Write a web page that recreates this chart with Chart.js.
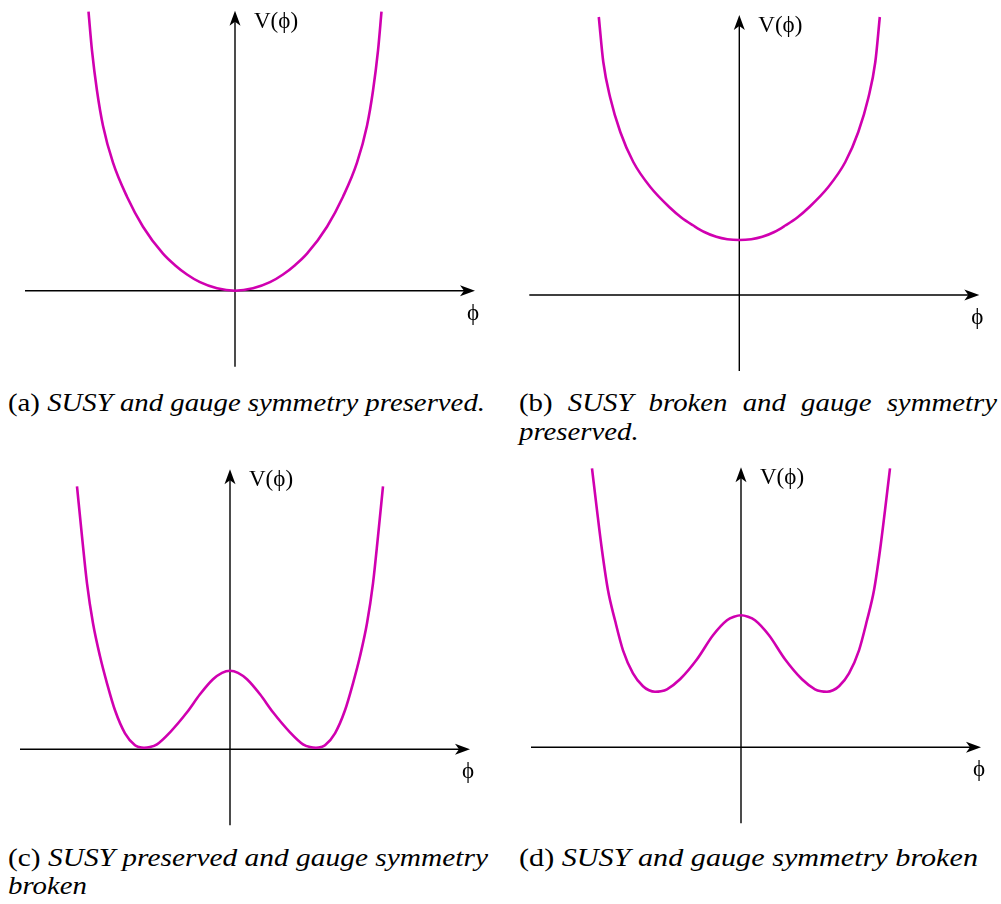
<!DOCTYPE html>
<html>
<head>
<meta charset="utf-8">
<script src="https://cdn.jsdelivr.net/npm/chart.js@4.4.1/dist/chart.umd.min.js"></script>
<style>
  body { margin: 0; background: #fff; }
  #page { position: relative; width: 1001px; height: 904px; overflow: hidden; }
  .panel { position: absolute; width: 500px; height: 380px; }
  .cap {
    position: absolute;
    font-family: "Liberation Serif", "Times New Roman", serif;
    font-size: 26px;
    line-height: 26px;
    white-space: nowrap;
    color: #000;
    transform-origin: 0 0;
  }
  .cap i { font-style: italic; }
  .just { white-space: normal; text-align: justify; text-align-last: justify; }
</style>
</head>
<body>
<div id="page">
  <div class="panel" style="left:0;top:0"><canvas id="chartA"></canvas></div>
  <div class="panel" style="left:500px;top:0"><canvas id="chartB"></canvas></div>
  <div class="panel" style="left:0;top:460px"><canvas id="chartC"></canvas></div>
  <div class="panel" style="left:500px;top:460px"><canvas id="chartD"></canvas></div>

  <div class="cap" id="capA" style="left:8px;top:390px">(a) <i>SUSY and gauge symmetry preserved.</i></div>
  <div class="cap just" id="capB1" style="left:519px;top:390px">(b) <i>SUSY broken and gauge symmetry</i></div>
  <div class="cap" id="capB2" style="left:519px;top:419px"><i>preserved.</i></div>
  <div class="cap" id="capC1" style="left:8px;top:845px">(c) <i>SUSY preserved and gauge symmetry</i></div>
  <div class="cap" id="capC2" style="left:8px;top:873px"><i>broken</i></div>
  <div class="cap" id="capD" style="left:519px;top:845px">(d) <i>SUSY and gauge symmetry broken</i></div>
</div>

<script>
// curves (arbitrary units, field on x, potential on y)
const phiA = [-1.465, -1.43, -1.38, -1.32, -1.22, -1.08, -0.92, -0.72, -0.60, -0.48, -0.35, -0.18, 0,
              0.18, 0.35, 0.48, 0.60, 0.72, 0.92, 1.08, 1.22, 1.32, 1.38, 1.43, 1.465];
const vA   = [2.79, 2.40, 2.00, 1.65, 1.28, 0.94, 0.64, 0.37, 0.255, 0.162, 0.085, 0.024, 0,
              0.024, 0.085, 0.162, 0.255, 0.37, 0.64, 0.94, 1.28, 1.65, 2.00, 2.40, 2.79];

const phiB = [-1.405, -1.36, -1.29, -1.19, -1.06, -0.89, -0.69, -0.58, -0.46, -0.35, -0.23, -0.12, 0,
              0.12, 0.23, 0.35, 0.46, 0.58, 0.69, 0.89, 1.06, 1.19, 1.29, 1.36, 1.405];
const vB   = [2.78, 2.33, 1.97, 1.63, 1.33, 1.08, 0.87, 0.775, 0.695, 0.63, 0.582, 0.558, 0.55,
              0.558, 0.582, 0.63, 0.695, 0.775, 0.87, 1.08, 1.33, 1.63, 1.97, 2.33, 2.78];

const phiC = [-1.53, -1.48, -1.43, -1.37, -1.30, -1.23, -1.15, -1.05, -0.95, -0.91, -0.86, -0.80, -0.73, -0.60, -0.43, -0.30, -0.17, -0.08, 0,
              0.08, 0.17, 0.30, 0.43, 0.60, 0.73, 0.80, 0.86, 0.91, 0.95, 1.05, 1.15, 1.23, 1.30, 1.37, 1.43, 1.48, 1.53];
const vC   = [2.63, 2.13, 1.66, 1.26, 0.93, 0.66, 0.39, 0.16, 0.04, 0.022, 0.015, 0.022, 0.05, 0.17, 0.37, 0.55, 0.70, 0.765, 0.785,
              0.765, 0.70, 0.55, 0.37, 0.17, 0.05, 0.022, 0.015, 0.022, 0.04, 0.16, 0.39, 0.66, 0.93, 1.26, 1.66, 2.13, 2.63];

const phiD = [-1.49, -1.44, -1.39, -1.33, -1.26, -1.18, -1.08, -0.98, -0.92, -0.86, -0.80, -0.74, -0.61, -0.44, -0.28, -0.14, -0.07, 0,
              0.07, 0.14, 0.28, 0.44, 0.61, 0.74, 0.80, 0.86, 0.92, 0.98, 1.08, 1.18, 1.26, 1.33, 1.39, 1.44, 1.49];
const vD   = [2.79, 2.37, 1.97, 1.57, 1.27, 0.97, 0.74, 0.61, 0.57, 0.555, 0.56, 0.58, 0.68, 0.88, 1.12, 1.27, 1.305, 1.32,
              1.305, 1.27, 1.12, 0.88, 0.68, 0.58, 0.56, 0.555, 0.57, 0.61, 0.74, 0.97, 1.27, 1.57, 1.97, 2.37, 2.79];

// axis labels
const yLabel = "V(\u03D5)";
const xLabel = "\u03D5";

const curveColor = "#d000b0";

function arrowHead(ctx, x, y, dir) {
  // filled arrow, slightly notched at the back
  const len = 15, half = 5.5, notch = 11;
  ctx.save();
  ctx.translate(x, y);
  if (dir === "up") ctx.rotate(-Math.PI / 2);
  ctx.beginPath();
  ctx.moveTo(0, 0);
  ctx.lineTo(-len, -half);
  ctx.lineTo(-notch, 0);
  ctx.lineTo(-len, half);
  ctx.closePath();
  ctx.fillStyle = "#000";
  ctx.fill();
  ctx.restore();
}

const arrowAxes = {
  id: "arrowAxes",
  beforeDatasetsDraw(chart, args, opts) {
    const ctx = chart.ctx;
    const xs = chart.scales.x, ys = chart.scales.y;
    const x0 = xs.getPixelForValue(0);
    const y0 = ys.getPixelForValue(0);
    const left = xs.getPixelForValue(opts.phiRange[0]);
    const right = xs.getPixelForValue(opts.phiRange[1]);
    const bottom = ys.getPixelForValue(opts.vRange[0]);
    const top = ys.getPixelForValue(opts.vRange[1]);

    ctx.save();
    ctx.strokeStyle = "#000";
    ctx.lineWidth = 1.4;
    ctx.beginPath();
    ctx.moveTo(left, y0);
    ctx.lineTo(right - 10, y0);
    ctx.moveTo(x0, bottom);
    ctx.lineTo(x0, top + 10);
    ctx.stroke();
    arrowHead(ctx, right, y0, "right");
    arrowHead(ctx, x0, top, "up");

    ctx.fillStyle = "#000";
    ctx.font = '23px "Liberation Serif", "Times New Roman", serif';
    ctx.textAlign = "left";
    ctx.textBaseline = "alphabetic";
    ctx.fillText(yLabel, x0 + 19, top + 17);
    ctx.textAlign = "center";
    ctx.fillText(xLabel, right - 2, y0 + 29);
    ctx.restore();
  }
};

function makePanel(id, phi, v, xMin, xMax, yMin, yMax) {
  new Chart(document.getElementById(id), {
    type: "line",
    data: {
      datasets: [{
        data: phi.map((p, i) => ({ x: p, y: v[i] })),
        borderColor: curveColor,
        borderWidth: 2.6,
        pointRadius: 0,
        fill: false,
        cubicInterpolationMode: "monotone",
        clip: false
      }]
    },
    options: {
      responsive: true,
      maintainAspectRatio: false,
      animation: false,
      layout: { padding: 0 },
      events: [],
      scales: {
        x: { type: "linear", min: xMin, max: xMax, display: false },
        y: { type: "linear", min: yMin, max: yMax, display: false }
      },
      plugins: {
        legend: { display: false },
        tooltip: { enabled: false },
        arrowAxes: { phiRange: [-2.10, 2.40], vRange: [-0.76, 2.80] }
      }
    },
    plugins: [arrowAxes]
  });
}

makePanel("chartA", phiA, vA, -2.35, 2.65, -0.893, 2.907);
makePanel("chartB", phiB, vB, -2.393, 2.607, -0.85, 2.95);
makePanel("chartC", phiC, vC, -2.30, 2.70, -0.907, 2.893);
makePanel("chartD", phiD, vD, -2.41, 2.59, -0.927, 2.873);

// stretch caption lines to the widths they have in the figure
function naturalWidth(el) {
  const r = document.createRange();
  r.selectNodeContents(el);
  return r.getBoundingClientRect().width;
}
const capA = document.getElementById("capA");
const s = 477 / naturalWidth(capA);
capA.style.transform = "scaleX(" + s + ")";

const capD = document.getElementById("capD");
capD.style.transform = "scaleX(" + (459 / naturalWidth(capD)) + ")";

const capC1 = document.getElementById("capC1");
capC1.style.transform = "scaleX(" + (480 / naturalWidth(capC1)) + ")";

const capB1 = document.getElementById("capB1");
capB1.style.width = (478 / s) + "px";
capB1.style.transform = "scaleX(" + s + ")";

document.getElementById("capB2").style.transform = "scaleX(" + s + ")";
document.getElementById("capC2").style.transform = "scaleX(" + s + ")";
</script>
</body>
</html>
